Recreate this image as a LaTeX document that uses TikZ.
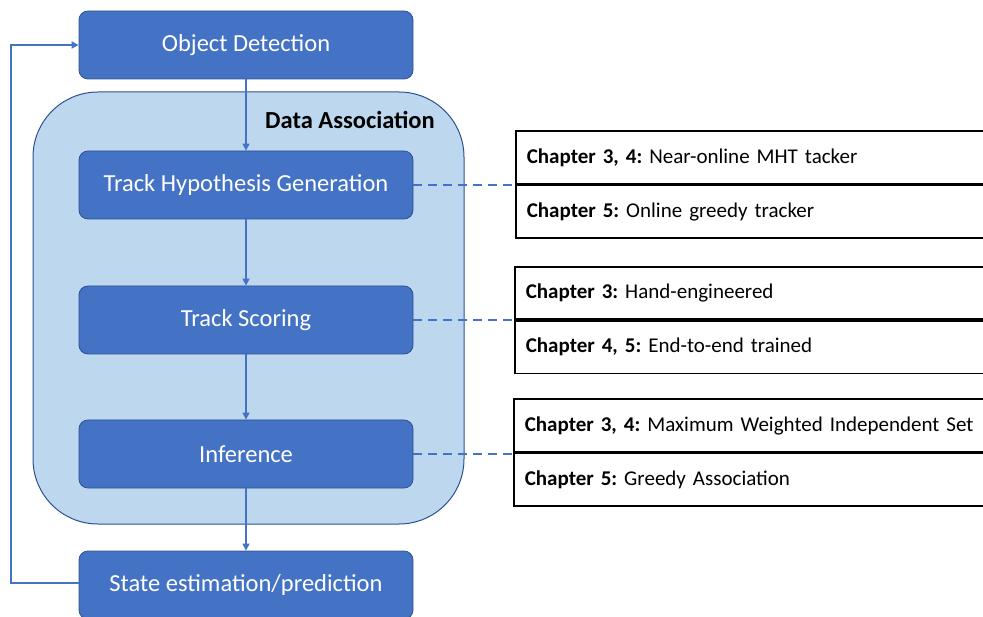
\documentclass[tikz,border=0pt]{standalone}
\usepackage{fontspec}
\setmainfont{Carlito}
\frenchspacing
\usetikzlibrary{arrows.meta}
\definecolor{stageblue}{RGB}{68,114,196}
\definecolor{stageedge}{RGB}{47,82,143}
\definecolor{assocblue}{RGB}{189,215,238}
\tikzset{
  stage/.style={draw=stageedge, fill=stageblue, line width=0.8pt, rounded corners=9pt,
    minimum width=334pt, minimum height=68pt, text=white,
    font=\fontsize{24.5}{28}\selectfont},
  chaprow/.style={draw=black, line width=1.6pt, anchor=north west, minimum height=52.5pt,
    text width=453pt, inner xsep=11pt, align=left,
    font=\fontsize{21}{25}\selectfont},
  flow/.style={stageblue, line width=1.3pt, -{Triangle[width=7pt,length=7pt]}},
  link/.style={stageblue, line width=1.8pt, dash pattern=on 9pt off 6pt}
}
\begin{document}
\begin{tikzpicture}[x=1pt,y=-1pt]
  \useasboundingbox (0,0) rectangle (983,617);
  % data association block
  \node[draw=stageedge, fill=assocblue, line width=1pt, rounded corners=65pt,
        minimum width=431pt, minimum height=432pt] (assoc) at (248.5,308) {};
  \node[font=\fontsize{24.5}{28}\selectfont\bfseries] (assoclabel) at (350,120) {Data Association};
  % pipeline
  \node[stage] (detect) at (246,45) {Object Detection};
  \node[stage] (hypgen) at (246,185) {Track Hypothesis Generation};
  \node[stage] (scoring) at (246,320) {Track Scoring};
  \node[stage] (infer) at (246,454) {Inference};
  \node[stage] (state) at (246,585) {State estimation/prediction};
  \draw[flow] (detect) -- (hypgen);
  \draw[flow] (hypgen) -- (scoring);
  \draw[flow] (scoring) -- (infer);
  \draw[flow] (infer) -- (state);
  \coordinate (loop) at (11,583);
  \draw[flow, line width=1.8pt] (state.west |- loop) -- (loop) |- (detect.west);
  % chapters
  \node[chaprow] (hyp1) at (515,130.5) {\textbf{Chapter 3, 4:} Near-online MHT tacker};
  \node[chaprow] (hyp2) at (hyp1.south west) {\textbf{Chapter 5:} Online greedy tracker};
  \node[chaprow] (score1) at (514,266) {\textbf{Chapter 3:} Hand-engineered};
  \node[chaprow] (score2) at (score1.south west) {\textbf{Chapter 4, 5:} End-to-end trained};
  \node[chaprow] (inf1) at (513,398.5) {\textbf{Chapter 3, 4:} Maximum Weighted Independent Set};
  \node[chaprow] (inf2) at (inf1.south west) {\textbf{Chapter 5:} Greedy Association};
  \draw[link] (hypgen.east) -- (hypgen.east -| hyp1.south west);
  \draw[link] (scoring.east) -- (scoring.east -| score1.south west);
  \draw[link] (infer.east) -- (infer.east -| inf1.south west);
\end{tikzpicture}
\end{document}
